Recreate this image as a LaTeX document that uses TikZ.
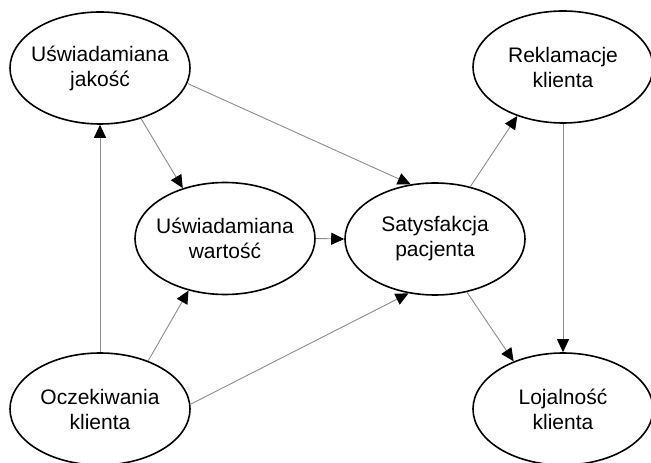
\documentclass[tikz,border=0pt]{standalone}
\usepackage{fontspec}
\setmainfont{Liberation Sans}
\usetikzlibrary{shapes.geometric,arrows.meta}
\definecolor{lin}{RGB}{140,140,140}
\newcommand{\zb}[1]{\makebox[0pt]{#1}}
\begin{document}
\begin{tikzpicture}[x=1bp,y=-1bp,
  oval/.style={ellipse, draw=black, line width=1.6bp, minimum width=180bp, minimum height=112bp,
    inner sep=0pt, align=center, font=\fontsize{21bp}{25bp}\selectfont},
  conn/.style={draw=lin, line width=0.9bp, -{Triangle[length=13bp,width=12bp,color=black]}}]
\useasboundingbox (0,0) rectangle (651,463);
\node[oval] (A) at (100,68) {\zb{Uświadamiana}\\\zb{jakość}};
\node[oval] (B) at (225,238.5) {\zb{Uświadamiana}\\\zb{wartość}};
\node[oval] (C) at (435,239) {\zb{Satysfakcja}\\\zb{pacjenta}};
\node[oval] (D) at (563,67) {\zb{Reklamacje}\\\zb{klienta}};
\node[oval] (E) at (100,409) {\zb{Oczekiwania}\\\zb{klienta}};
\node[oval] (F) at (563,409) {\zb{Lojalność}\\\zb{klienta}};
\draw[conn] (E.north) -- (A.south);
\draw[conn] (A.-51) -- (B.130);
\draw[conn] (E.45) -- (B.-125);
\draw[conn] (E.3) -- (C.-116);
\draw[conn] (A.-10) -- (C.114);
\draw[conn] (B.east) -- (C.west);
\draw[conn] (C.56) -- (D.-133);
\draw[conn] (C.-59) -- (F.136);
\draw[conn] (D.south) -- (F.north);
\end{tikzpicture}
\end{document}
